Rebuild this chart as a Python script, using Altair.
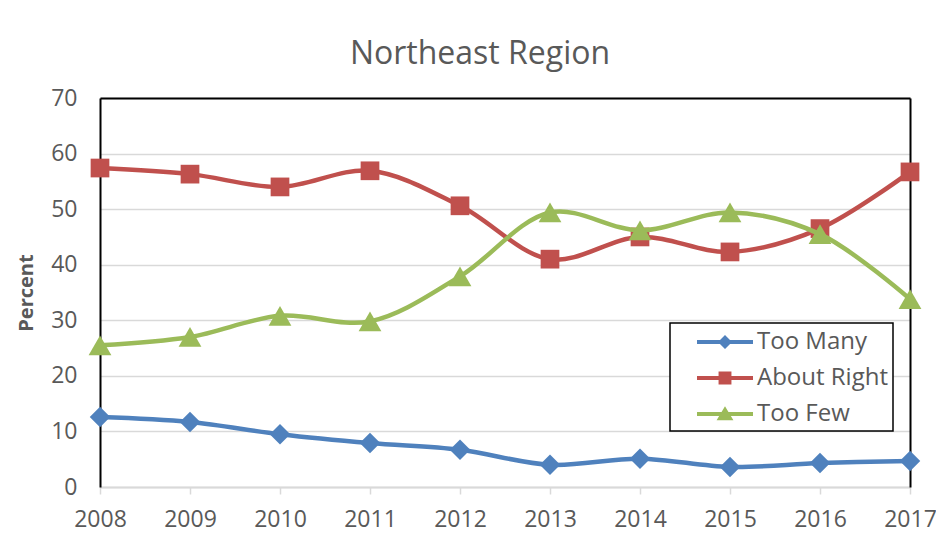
import altair as alt
import pandas as pd

years = ["2008", "2009", "2010", "2011", "2012", "2013", "2014", "2015", "2016", "2017"]
series_names = ["Too Many", "About Right", "Too Few"]
too_many = [12.6, 11.7, 9.5, 7.9, 6.7, 4.0, 5.1, 3.6, 4.3, 4.7]
about_right = [57.4, 56.3, 54.0, 56.9, 50.6, 41.0, 45.0, 42.3, 46.5, 56.7]
too_few = [25.5, 27.0, 30.8, 29.8, 37.9, 49.4, 46.2, 49.4, 45.5, 33.8]
y_ticks = [0, 10, 20, 30, 40, 50, 60, 70]

colors = ["#4F81BD", "#C0504D", "#9BBB59"]
shapes = ["diamond", "square", "triangle-up"]
marker_sizes = [420, 350, 520]
bar = "M-2,-0.15H2V0.15H-2Z "
legend_paths = [
    bar + "M0,-0.5L0.5,0L0,0.5L-0.5,0Z",
    bar + "M-0.46,-0.46H0.46V0.46H-0.46Z",
    bar + "M0,-0.55L0.6,0.45H-0.6Z",
]

rows = []
for name, vals in zip(series_names, [too_many, about_right, too_few]):
    for yr, v in zip(years, vals):
        rows.append({"year": yr, "value": v, "series": name})
df = pd.DataFrame(rows)

FONT = "Open Sans"
GRAY = "#595959"

x_axis = alt.Axis(title=None, grid=False, domainColor="#d9d9d9", domainWidth=2,
                  tickColor="#d9d9d9", tickWidth=1.5, tickSize=7, labelAngle=0,
                  labelFont=FONT, labelFontSize=23, labelColor=GRAY, labelPadding=14)
y_axis = alt.Axis(title="Percent", values=y_ticks, grid=True, gridColor="#d9d9d9",
                  gridWidth=1.5, domainColor="black", domainWidth=2, ticks=False,
                  labelFont=FONT, labelFontSize=23, labelColor=GRAY, labelPadding=23,
                  titleFont=FONT, titleFontSize=20, titleFontWeight="bold",
                  titleColor=GRAY, titlePadding=14)

base = alt.Chart(df)
layers = []
first = True
for name, c, shp, sz in zip(series_names, colors, shapes, marker_sizes):
    xe = alt.X("year:O", scale=alt.Scale(type="point", padding=0), sort=years,
               axis=x_axis if first else None)
    ye = alt.Y("value:Q", scale=alt.Scale(domain=[0, 70], nice=False),
               axis=y_axis if first else None)
    first = False
    line = base.transform_filter(alt.datum.series == name).mark_line(
        color=c, strokeWidth=4.5, interpolate="catmull-rom", strokeCap="round"
    ).encode(x=xe, y=ye)
    pts = base.transform_filter(alt.datum.series == name).mark_point(
        shape=shp, filled=True, size=sz, color=c, opacity=1
    ).encode(x=alt.X("year:O", scale=alt.Scale(type="point", padding=0), sort=years, axis=None),
             y=alt.Y("value:Q", scale=alt.Scale(domain=[0, 70], nice=False), axis=None))
    layers += [line, pts]

frame_axis = dict(title=None, labels=False, ticks=False, grid=False,
                  domainColor="black", domainWidth=2)
legend = alt.Legend(title=None, orient="none", legendX=570, legendY=225,
                    fillColor="white", strokeColor="black",
                    padding=5, symbolOffset=36, labelOffset=18, symbolSize=784,
                    symbolStrokeWidth=0, symbolOpacity=1, rowPadding=10,
                    labelFont=FONT, labelFontSize=24, labelColor=GRAY,
                    labelExpr="datum.label + '\u00a0\u00a0\u00a0'")
ghost = base.transform_filter("false").mark_point(filled=True, size=784, opacity=1).encode(
    x=alt.X("year:O", scale=alt.Scale(type="point", padding=0), sort=years,
            axis=alt.Axis(orient="top", **frame_axis)),
    y=alt.Y("value:Q", scale=alt.Scale(domain=[0, 70], nice=False),
            axis=alt.Axis(orient="right", **frame_axis)),
    color=alt.Color("series:N", scale=alt.Scale(domain=series_names, range=colors), legend=legend),
    shape=alt.Shape("series:N", scale=alt.Scale(domain=series_names, range=legend_paths), legend=legend),
)
layers.append(ghost)

chart = alt.layer(*layers).resolve_axis(x="independent", y="independent").properties(
    width=810, height=389,
    autosize=alt.AutoSizeParams(type="none"),
    padding={"left": 92, "top": 90, "right": 26, "bottom": 65},
    background="white",
    title=alt.TitleParams("Northeast Region", font=FONT, fontSize=32, fontWeight="normal",
                          color=GRAY, anchor="middle", dx=-25, offset=16),
).configure_view(stroke=None).configure_legend(strokeWidth=1.5)

chart.save("out.html", embed_options={"renderer": "svg", "actions": False})
